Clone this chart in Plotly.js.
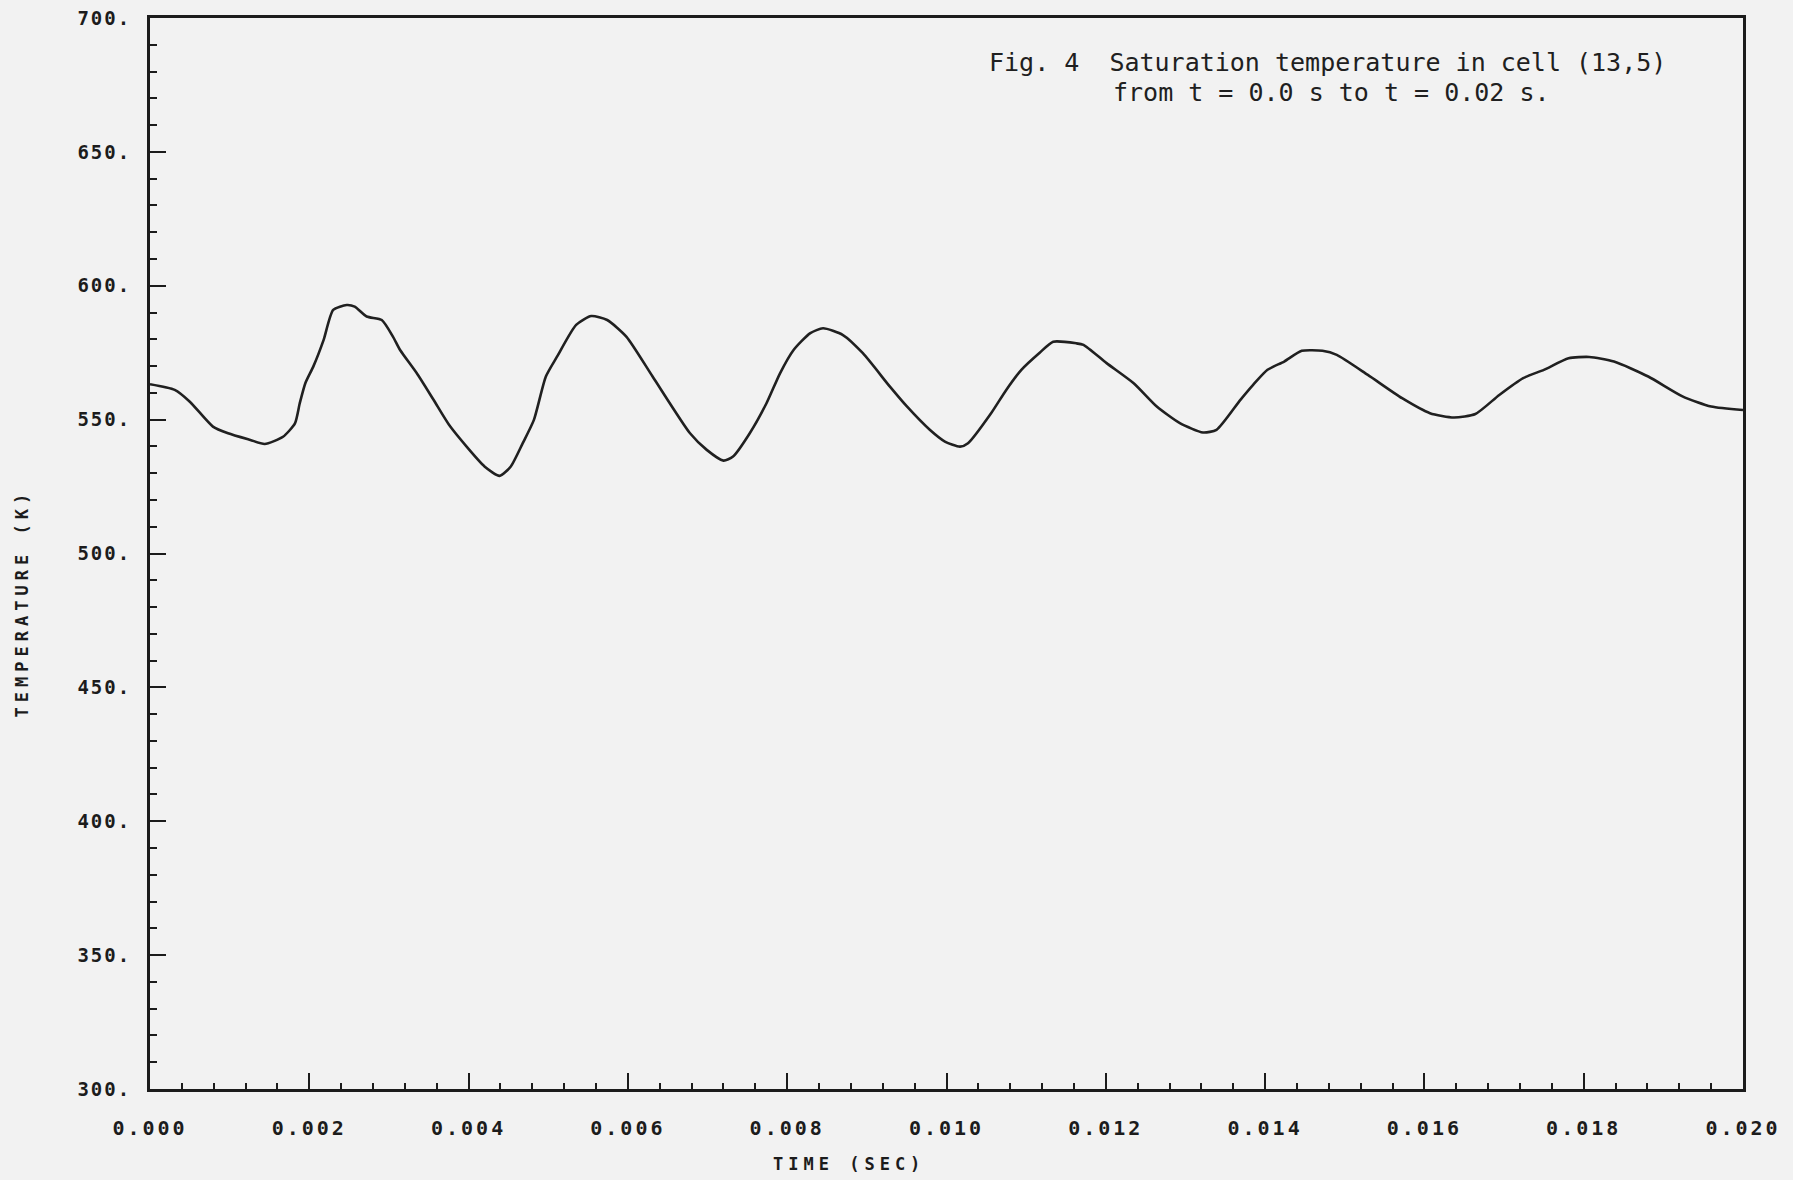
<!DOCTYPE html>
<html>
<head>
<meta charset="utf-8">
<script src="https://cdn.plot.ly/plotly-3.0.1.min.js"></script>
<style>
  html, body { margin: 0; padding: 0; background: #f2f2f2; }
  #chart { width: 1793px; height: 1180px; }
  #chart .ytick text { letter-spacing: 2px; }
  #chart .xtick text { letter-spacing: 3px; }
  #chart g.annotation[data-index="2"] text,
  #chart g.annotation[data-index="3"] text { letter-spacing: 5px; }
</style>
</head>
<body>
<div id="chart"></div>
<script>
// Time (s)
const timeSec = [
  0, 0.00031, 0.0005, 0.00079, 0.00098, 0.00126, 0.00144, 0.00167, 0.00182, 0.00188,
  0.00195, 0.00205, 0.00218, 0.0023, 0.00247, 0.00257, 0.00272, 0.00291, 0.00305, 0.00314,
  0.00335, 0.00356, 0.00377, 0.0042, 0.00439, 0.00453, 0.00468, 0.00482, 0.00497, 0.00511,
  0.00535, 0.00554, 0.00574, 0.00598, 0.00631, 0.00678, 0.00699, 0.0072, 0.00732, 0.00753,
  0.00774, 0.00791, 0.00808, 0.00829, 0.00845, 0.0087, 0.00895, 0.00929, 0.0095, 0.00979,
  0.00998, 0.01017, 0.01027, 0.01056, 0.01075, 0.01094, 0.01117, 0.01134, 0.01163, 0.01172,
  0.01201, 0.01235, 0.01264, 0.01293, 0.01322, 0.01339, 0.01369, 0.01385, 0.01403, 0.01424,
  0.01446, 0.01472, 0.0149, 0.01529, 0.01572, 0.01607, 0.01637, 0.01664, 0.01694, 0.01724,
  0.0175, 0.01781, 0.01807, 0.01838, 0.01881, 0.01924, 0.0196, 0.02
];
// Saturation temperature (K)
const satTempK = [
  563.2, 561.1, 556.7, 547.4, 544.9, 542.4, 540.9, 543.6, 548.6, 556.1,
  563.6, 569.8, 579.8, 591.0, 592.8, 592.2, 588.5, 587.2, 581.0, 576.0,
  567.3, 557.4, 547.4, 532.5, 529.0, 532.5, 541.2, 549.9, 566.1, 573.5,
  585.4, 588.7, 587.2, 581.0, 566.1, 544.9, 538.7, 534.7, 536.2, 544.9,
  556.1, 567.3, 576.0, 582.3, 584.1, 581.6, 574.8, 562.3, 555.0, 546.2,
  541.8, 539.9, 541.2, 552.4, 561.1, 568.6, 575.0, 579.1, 578.5, 577.9,
  571.1, 563.6, 554.9, 548.7, 545.2, 546.2, 557.4, 563.0, 568.6, 571.7,
  575.7, 575.7, 574.2, 566.7, 558.0, 552.4, 550.8, 552.1, 559.2, 565.5,
  568.6, 572.9, 573.4, 571.7, 566.1, 558.7, 554.9, 553.6
];

const captionLine1 = "Fig. 4  Saturation temperature in cell (13,5)";
const captionLine2 = "from t = 0.0 s to t = 0.02 s.";
const yAxisTitle = "TEMPERATURE (K)";
const xAxisTitle = "TIME (SEC)";

const ink = "#1c1c1c";

const trace = {
  x: timeSec,
  y: satTempK,
  type: "scatter",
  mode: "lines",
  line: { color: "#202020", width: 2.6, shape: "spline", smoothing: 0.6 },
  hoverinfo: "skip"
};

const layout = {
  width: 1793,
  height: 1180,
  paper_bgcolor: "#f2f2f2",
  plot_bgcolor: "#f2f2f2",
  showlegend: false,
  margin: { l: 150, r: 50, t: 18, b: 91, pad: 0 },
  xaxis: {
    range: [0, 0.02],
    tickmode: "linear",
    tick0: 0,
    dtick: 0.002,
    tickformat: ".3f",
    ticks: "inside",
    ticklen: 16,
    tickwidth: 2,
    tickcolor: ink,
    tickfont: { family: "DejaVu Sans Mono", size: 20, color: ink, weight: "bold" },
    ticklabelstandoff: 19,
    showline: true,
    linecolor: ink,
    linewidth: 3,
    mirror: true,
    showgrid: false,
    zeroline: false,
    minor: { ticks: "inside", dtick: 0.0004, tick0: 0, ticklen: 6, tickwidth: 2, tickcolor: ink, showgrid: false }
  },
  yaxis: {
    range: [300, 700],
    tickmode: "linear",
    tick0: 300,
    dtick: 50,
    tickformat: "d",
    ticksuffix: ".",
    ticks: "inside",
    ticklen: 16,
    tickwidth: 2,
    tickcolor: ink,
    tickfont: { family: "DejaVu Sans Mono", size: 19, color: ink, weight: "bold" },
    ticklabelstandoff: 12,
    showline: true,
    linecolor: ink,
    linewidth: 3,
    mirror: true,
    showgrid: false,
    zeroline: false,
    minor: { ticks: "inside", dtick: 10, tick0: 300, ticklen: 7, tickwidth: 2, tickcolor: ink, showgrid: false }
  },
  annotations: [
    {
      text: captionLine1, xref: "paper", yref: "paper",
      x: 0.5254, y: 0.958, xanchor: "left", yanchor: "middle", showarrow: false,
      font: { family: "DejaVu Sans Mono", size: 25, color: "#202020" }
    },
    {
      text: captionLine2, xref: "paper", yref: "paper",
      x: 0.6033, y: 0.930, xanchor: "left", yanchor: "middle", showarrow: false,
      font: { family: "DejaVu Sans Mono", size: 25, color: "#202020" }
    },
    {
      text: yAxisTitle, xref: "paper", yref: "paper",
      x: -0.0804, y: 0.4538, xanchor: "center", yanchor: "middle", textangle: -90, showarrow: false,
      font: { family: "DejaVu Sans Mono", size: 17, color: ink, weight: "bold" }
    },
    {
      text: xAxisTitle, xref: "paper", yref: "paper",
      x: 0.4388, y: -0.070, xanchor: "center", yanchor: "middle", showarrow: false,
      font: { family: "DejaVu Sans Mono", size: 17, color: ink, weight: "bold" }
    }
  ]
};

Plotly.newPlot("chart", [trace], layout, { staticPlot: true, displayModeBar: false });
</script>
</body>
</html>
